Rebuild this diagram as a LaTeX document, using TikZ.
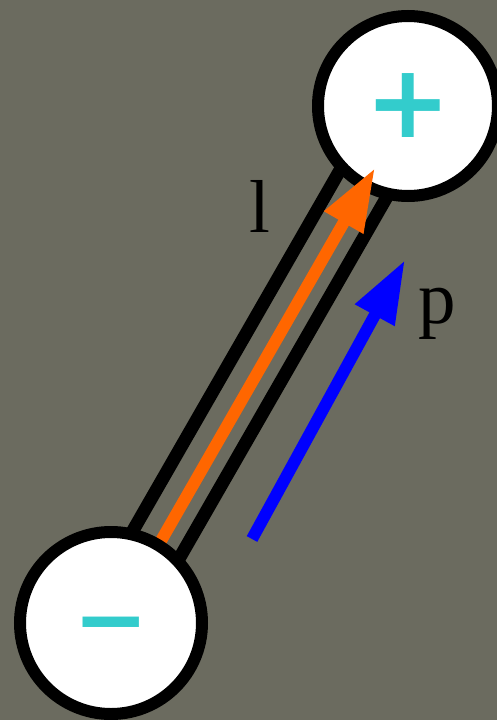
\documentclass[tikz,border=0pt]{standalone}
\usepackage{fontspec}
\setmainfont{Liberation Serif}
\newfontfamily\signfont{DejaVu Sans Bold}
\usetikzlibrary{arrows.meta,calc}
\definecolor{bg}{HTML}{6B6B5F}
\definecolor{signcyan}{HTML}{33CCCC}
\definecolor{lorange}{HTML}{FF6600}
\definecolor{pblue}{HTML}{0000FF}
\begin{document}
\begin{tikzpicture}[x=1pt,y=-1pt,
  rodline/.style={draw=black,line width=13pt},
  ball/.style={circle,draw=black,fill=white,line width=12pt,inner sep=0pt},
  vecarrow/.style={line width=12pt,-{Triangle[length=63pt,width=42pt]}},
  sign/.style={text=signcyan,inner sep=0pt},
  lab/.style={text=black,inner sep=0pt,anchor=base,font=\fontsize{75}{75}\selectfont}]
\fill[bg] (0,0) rectangle (497,720);
\useasboundingbox (0,0) rectangle (497,720);
\coordinate (topc) at (408,106);
\coordinate (botc) at (111,623);
% rod
\coordinate (r1a) at ($(botc)!27pt!90:(topc)$);
\coordinate (r1b) at ($(topc)!27pt!-90:(botc)$);
\coordinate (r2a) at ($(botc)!27pt!-90:(topc)$);
\coordinate (r2b) at ($(topc)!27pt!90:(botc)$);
\draw[rodline] (r1a) -- (r1b);
\draw[rodline] (r2a) -- (r2b);
% top ball
\node[ball,minimum size=180pt] (top) at (topc) {};
% orange arrow
\coordinate (oS) at (158,546);
\coordinate (oT) at (375,168);
\draw[vecarrow,lorange] (oS) -- (oT);
% bottom ball
\node[ball,minimum size=182pt] (bot) at (botc) {};
% blue arrow
\coordinate (bS) at (252,539);
\coordinate (bT) at (405,260);
\draw[vecarrow,pblue] (bS) -- (bT);
% signs
\node[sign,font=\signfont\fontsize{102}{102}\selectfont] (plus) at (408.5,106) {+};
\node[sign,font=\signfont\fontsize{90}{90}\selectfont] (minus) at (111.5,634) {−};
% labels
\node[lab] (l) at (260,232) {l};
\node[lab] (p) at (437,323) {p};
\end{tikzpicture}
\end{document}
